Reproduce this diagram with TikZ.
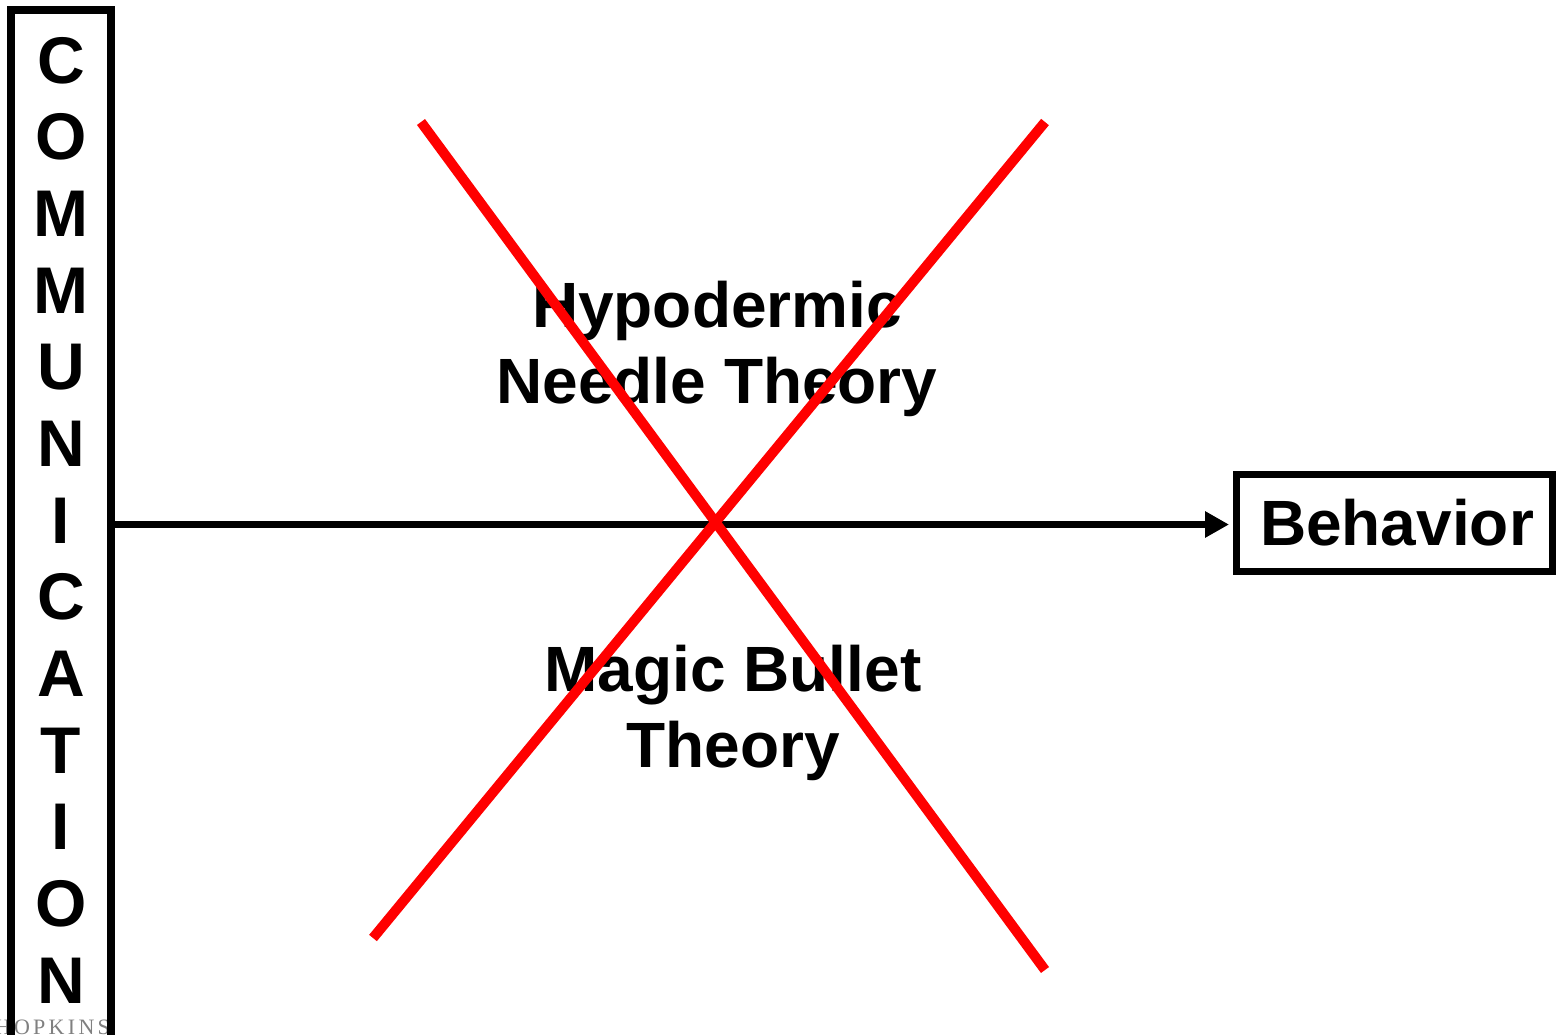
\documentclass[tikz,border=0pt]{standalone}
\usepackage{fontspec}
\setmainfont{Liberation Sans}
\newfontfamily\wmfont[LetterSpace=15]{Liberation Serif}
\usetikzlibrary{positioning,arrows.meta}

\begin{document}
\begin{tikzpicture}[
      x=1pt, y=-1pt,
      every node/.style={font=\bfseries\fontsize{64}{76}\selectfont, align=center, inner sep=0pt, outer sep=0pt},
      colbox/.style={draw, line width=8pt, minimum width=100pt, minimum height=1060pt},
      colletter/.style={font=\bfseries\fontsize{66}{66}\selectfont, anchor=base},
      outbox/.style={draw, line width=7pt, minimum width=316pt, minimum height=97pt,
                     font=\bfseries\fontsize{64}{64}\selectfont},
      arrow/.style={-{Triangle[length=24pt, width=25pt]}, line width=7.5pt, shorten >=7pt},
      cross/.style={draw=red, line width=10pt},
  ]
    \useasboundingbox (0,0) rectangle (1556,1034);
    \clip (0,0) rectangle (1556,1034);

    %% --- faint watermark, bottom left ---
    \node[font=\wmfont\fontsize{22}{22}\selectfont, text=black!50, anchor=base east]
      (mark) at (110,1034) {HOPKINS};

    %% --- communication column ---
    \node[colbox] (commbox) at (61,540) {};
    \foreach \ch [count=\i] in {C,O,M,M,U,N,I,C,A,T,I,O,N}
      \node[colletter] (c\i) at (61,{83+76.67*(\i-1)}) {\ch};

    %% --- behaviour box and arrow ---
    \node[outbox] (behav) at (1394,522.5) {\hspace{6pt}Behavior};
    \draw[arrow] (commbox.east |- 0,524.5) -- (behav.west |- 0,524.5);

    %% --- theory labels ---
    \node (hypo)  at (717,349)   {Hypodermic\\Needle Theory};
    \node (magic) at (733,712.5) {Magic Bullet\\Theory};

    %% --- red cross ---
    \draw[cross] (421,122) -- (1045,970);
    \draw[cross] (1045,122) -- (373,938);
  \end{tikzpicture}
\end{document}
